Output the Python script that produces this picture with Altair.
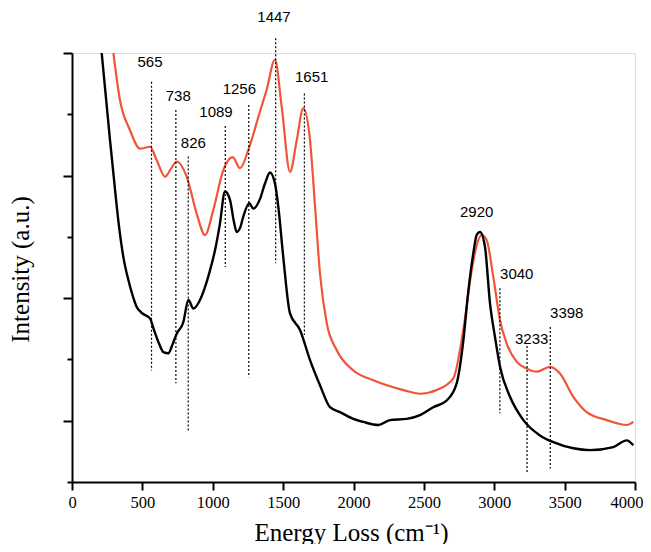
import altair as alt
import pandas as pd

# ---- data ----
black_x = [211, 240, 270, 300, 330, 365, 400, 430, 459, 500, 554, 580, 620, 649, 684, 715, 744, 790,
           827, 862, 905, 945, 980, 1016, 1050, 1087, 1123, 1150, 1170, 1195, 1217, 1260, 1288, 1336,
           1371, 1407, 1442, 1466, 1501, 1549, 1620, 1691, 1762, 1833, 1904, 1999, 2070, 2176, 2259,
           2378, 2473, 2567, 2662, 2733, 2780, 2815, 2851, 2875, 2899, 2934, 2970, 3005, 3041, 3112,
           3207, 3325, 3420, 3562, 3680, 3846, 3941, 3988]
black_y = [7.0, 6.3, 5.58, 4.9, 4.25, 3.67, 3.3, 3.05, 2.86, 2.75, 2.67, 2.5, 2.25, 2.12, 2.10, 2.25,
           2.42, 2.6, 2.97, 2.83, 2.95, 3.18, 3.45, 3.78, 4.2, 4.74, 4.60, 4.25, 4.08, 4.15, 4.33, 4.55,
           4.46, 4.62, 4.87, 5.05, 4.87, 4.49, 3.67, 2.75, 2.48, 1.99, 1.58, 1.22, 1.14, 1.03, 0.98,
           0.93, 1.01, 1.03, 1.09, 1.22, 1.33, 1.61, 2.3, 3.1, 3.73, 4.03, 4.08, 3.84, 2.91, 2.37, 1.88,
           1.39, 1.01, 0.76, 0.65, 0.55, 0.52, 0.57, 0.68, 0.60]

red_x = [294, 341, 412, 483, 554, 602, 661, 700, 744, 815, 886, 945, 1004, 1075, 1142, 1194, 1253,
         1336, 1383, 1442, 1490, 1549, 1597, 1643, 1691, 1727, 1762, 1810, 1881, 1999, 2141, 2354,
         2473, 2591, 2709, 2780, 2840, 2887, 2911, 2946, 2993, 3041, 3088, 3160, 3231, 3302,
         3396, 3467, 3562, 3657, 3799, 3941, 3988]
red_y = [7.0, 6.23, 5.74, 5.44, 5.47, 5.25, 4.98, 5.1, 5.23, 4.98, 4.38, 4.03, 4.44, 5.09, 5.30, 5.12,
         5.42, 6.05, 6.40, 6.89, 6.12, 5.06, 5.58, 6.10, 5.58, 4.49, 3.40, 2.59, 2.15, 1.82, 1.66, 1.50,
         1.44, 1.50, 1.69, 2.48, 3.46, 3.95, 4.03, 3.95, 3.35, 2.64, 2.26, 1.96, 1.85, 1.80,
         1.88, 1.77, 1.39, 1.14, 1.01, 0.93, 0.98]

peak_x = [565, 738, 826, 1089, 1256, 1447, 1651, 3040, 3233, 3398]
peak_top = [6.53, 6.07, 5.31, 5.81, 6.15, 7.24, 6.34, 3.16, 2.22, 2.53]
peak_bottom = [1.82, 1.61, 0.84, 3.51, 1.71, 3.57, 2.40, 1.12, 0.16, 0.22]

label_text = ["565", "738", "826", "1089", "1256", "1447", "1651", "2920", "3040", "3233", "3398"]
label_x = [554, 755, 862, 1023, 1189, 1435, 1703, 2875, 3160, 3266, 3515]
label_y = [6.86, 6.30, 5.53, 6.03, 6.42, 7.59, 6.61, 4.41, 3.39, 2.34, 2.75]

x_ticks = list(range(0, 4001, 250))
y_ticks = [0, 1, 2, 3, 4, 5, 6, 7]

black_df = pd.DataFrame({"x": black_x, "y": black_y})
red_df = pd.DataFrame({"x": red_x, "y": red_y})
peaks_df = pd.DataFrame({"x": peak_x, "y1": peak_top, "y2": peak_bottom})
labels_df = pd.DataFrame({"x": label_x, "y": label_y, "t": label_text})

xscale = alt.Scale(domain=[0, 4000], nice=False, zero=False)
yscale = alt.Scale(domain=[0, 7], nice=False, zero=False)

x_axis = alt.Axis(
    values=x_ticks, format="d", grid=False,
    labelExpr="datum.value % 500 === 0 ? datum.label : ''",
    tickSize={"condition": {"test": "datum.value % 500 === 0", "value": 8}, "value": 5},
    labelAlign={"condition": {"test": "datum.value === 4000", "value": "right"}, "value": "center"},
    labelOffset={"condition": {"test": "datum.value === 4000", "value": 8}, "value": 0},
    labelPadding=4, labelFont="Liberation Serif", labelFontSize=16.5, labelColor="black",
    title="Energy Loss (cm\u207b\u00b9)", titleFont="Liberation Serif", titleFontSize=25,
    titleFontWeight="normal", titleColor="black", titleX=279, titleY=58,
    titleAlign="center", titleBaseline="alphabetic",
    domainColor="black", domainWidth=2, tickColor="black", tickWidth=2, labelFlush=False,
)
y_axis = alt.Axis(
    values=y_ticks, labels=False, grid=False,
    tickSize={"condition": {"test": "datum.value % 2 === 1", "value": 9}, "value": 5},
    title="Intensity (a.u.)", titleFont="Liberation Serif", titleFontSize=25,
    titleFontWeight="normal", titleColor="black", titleX=-52, titleY=216,
    titleAngle=-90, titleAlign="center", titleBaseline="middle",
    domainColor="black", domainWidth=2, tickColor="black", tickWidth=2,
)

red = alt.Chart(red_df).mark_line(color="#F0553A", strokeWidth=2.2, interpolate="monotone").encode(
    x=alt.X("x:Q", scale=xscale, axis=x_axis),
    y=alt.Y("y:Q", scale=yscale, axis=y_axis),
)
black = alt.Chart(black_df).mark_line(color="black", strokeWidth=2.4, interpolate="monotone").encode(
    x=alt.X("x:Q", scale=xscale),
    y=alt.Y("y:Q", scale=yscale),
)
rules = alt.Chart(peaks_df).mark_rule(color="black", strokeWidth=1.2, strokeDash=[2, 2]).encode(
    x=alt.X("x:Q", scale=xscale),
    y=alt.Y("y1:Q", scale=yscale),
    y2="y2:Q",
)
labels = alt.Chart(labels_df).mark_text(
    font="Liberation Sans", fontSize=15, color="black", align="center", baseline="middle"
).encode(
    x=alt.X("x:Q", scale=xscale),
    y=alt.Y("y:Q", scale=yscale),
    text="t:N",
)

chart = alt.layer(red, black, rules, labels).properties(
    width=563, height=429, autosize="none",
    padding={"left": 64, "top": 45, "right": 8, "bottom": 62},
).configure_view(stroke=None).configure(background="white")

chart.save("out.html", embed_options={"renderer": "svg", "actions": False})
